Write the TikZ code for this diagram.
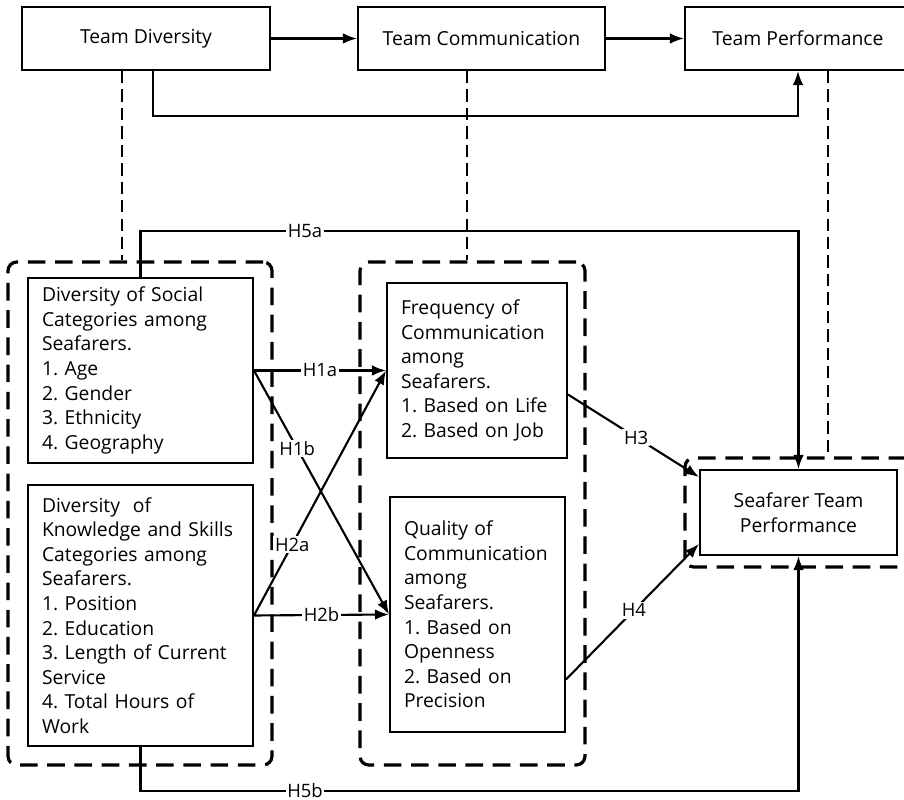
\documentclass[tikz,border=0pt]{standalone}
\usepackage{xcolor}
\usepackage{fontspec}
\setmainfont{Open Sans}
\usepackage{tikz}
\usetikzlibrary{positioning,calc,arrows.meta}
\frenchspacing
\tikzset{
	boite/.style={draw,line width=1.1pt,inner ysep=0pt,inner xsep=14*0.02cm,font=\fontsize{11}{14}\selectfont},
	titre/.style={boite,align=center,minimum height=63*0.02cm},
	groupe/.style={draw,line width=1.8pt,dash pattern=on 10pt off 5.5pt,rounded corners=5pt},
	lien/.style={line width=1pt,dash pattern=on 7pt off 3.5pt},
	fleche/.style={line width=1.2pt,-{Latex[length=8pt,width=6pt]}},
	etiq/.style={fill=white,inner sep=1pt,font=\fontsize{10.5}{12}\selectfont}
}

\begin{document}
\begin{tikzpicture}[x=0.02cm,y=-0.02cm]
	
	\def\px{0.02cm}
	\useasboundingbox (0,0) rectangle (904,800);
	
	%Groupes en tirets
	\node[groupe,minimum width={264*\px},minimum height={503*\px}] (grpDiv) at (140,513.5) {};
	\node[groupe,minimum width={225*\px},minimum height={503*\px}] (grpCom) at (472.5,513.5) {};
	\node[groupe,minimum width={230*\px},minimum height={109*\px}] (grpPerf) at (800,512.5) {};
	
	%Boites du haut
	\node[titre,minimum width={248*\px}] (tdiv) at (146,38.5) {Team Diversity};
	\node[titre,minimum width={247*\px}] (tcom) at (481.5,38.5) {Team Communication};
	\node[titre,minimum width={226*\px}] (tperf) at (798,38.5) {Team Performance};
	
	%Boites du bas
	\node[boite,align=left,text width={197*\px},minimum height={185*\px}] (soc) at (140.5,370.5)
		{Diversity of Social\\Categories among\\Seafarers.\\1. Age\\2. Gender\\3. Ethnicity\\4. Geography};
	\node[boite,align=left,text width={197*\px},minimum height={261*\px}] (know) at (140.5,615.5)
		{Diversity\ \ of\\Knowledge and Skills\\Categories among\\Seafarers.\\1. Position\\2. Education\\3. Length of Current\\Service\\4. Total Hours of\\Work};
	\node[boite,align=left,text width={152*\px},inner xsep={14*\px},minimum height={175*\px}] (freq) at (477,370.5)
		{Frequency of\\Communication\\among\\Seafarers.\\1. Based on Life\\2. Based on Job};
	\node[boite,align=left,text width={147*\px},minimum height={235*\px}] (qual) at (477.5,614.5)
		{Quality of\\Communication\\among\\Seafarers.\\1. Based on\\Openness\\2. Based on\\Precision};
	\node[boite,align=center,minimum width={197*\px},minimum height={85*\px}] (seatp) at (798.5,512.5)
		{Seafarer Team\\Performance};
	
	%Liens en tirets
	\coordinate (dTD) at ([xshift=-24*\px]tdiv.south);
	\coordinate (dTC) at ([xshift=-14.5*\px]tcom.south);
	\coordinate (dTP) at ([xshift=30*\px]tperf.south);
	\draw[lien] (dTD) -- (dTD |- grpDiv.north);
	\draw[lien] (dTC) -- (dTC |- grpCom.north);
	\draw[lien] (dTP) -- (dTP |- grpPerf.north);
	
	%Fleches du haut
	\draw[fleche] (tdiv) -- (tcom);
	\draw[fleche] (tcom) -- (tperf);
	\draw[fleche] ([xshift=7*\px]tdiv.south) -- ++(0,45) -| (tperf.south);
	
	%Hypotheses
	\draw[fleche] (soc.east) -- node[etiq,pos=0.5] {H1a} (freq.west);
	\draw[fleche] (soc.east) -- node[etiq,pos=0.32] {H1b} (qual.west);
	\draw[fleche] (know.east) -- node[etiq,pos=0.29] {H2a} (freq.west);
	\draw[fleche] (know.east) -- node[etiq,pos=0.5] {H2b} (qual.west);
	\draw[fleche] ($(freq.east)+(0,24)$) -- node[etiq,pos=0.52] {H3} ($(seatp.north west)+(0,8)$);
	\draw[fleche] ($(qual.east)+(0,65)$) -- node[etiq,pos=0.51] {H4} ($(seatp.south west)+(0,-12)$);
	\draw[fleche] (soc.north) -- ++(0,-46) -| node[etiq,pos=0.125] {H5a} (seatp.north);
	\draw[fleche] (know.south) -- ++(0,44) -| node[etiq,pos=0.125,inner ysep=0pt] {H5b} (seatp.south);
	
\end{tikzpicture}
\end{document}
